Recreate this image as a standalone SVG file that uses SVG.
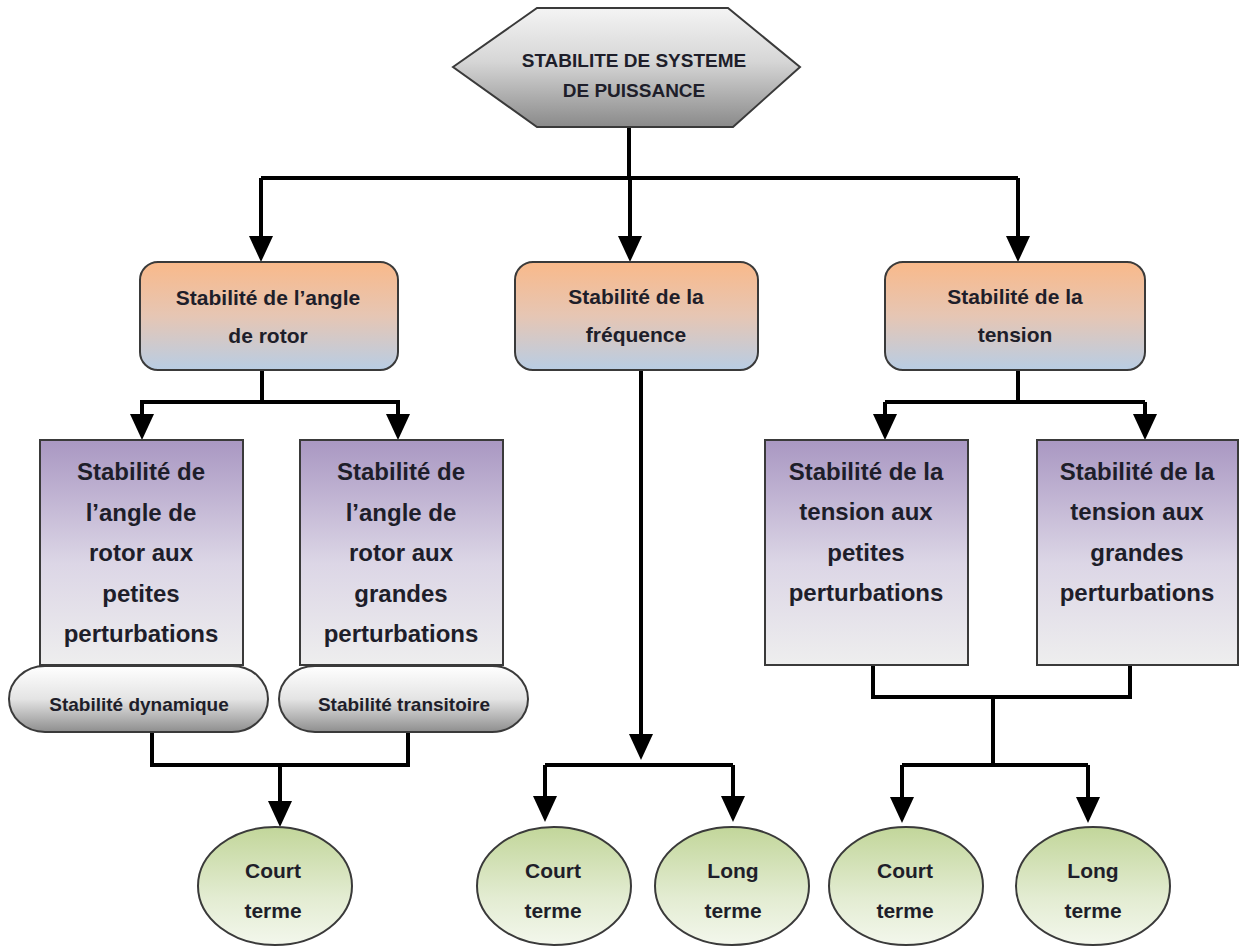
<svg xmlns="http://www.w3.org/2000/svg" width="1242" height="947" viewBox="0 0 1242 947">
  <defs>
    <linearGradient id="gHex" x1="0" y1="0" x2="0" y2="1">
      <stop offset="0" stop-color="#f4f4f4"/>
      <stop offset="0.45" stop-color="#d6d6d6"/>
      <stop offset="1" stop-color="#8a8a8a"/>
    </linearGradient>
    <linearGradient id="gTop" x1="0" y1="0" x2="0" y2="1">
      <stop offset="0" stop-color="#f9b98a"/>
      <stop offset="0.5" stop-color="#e6c6b4"/>
      <stop offset="1" stop-color="#b8cde4"/>
    </linearGradient>
    <linearGradient id="gMid" x1="0" y1="0" x2="0" y2="1">
      <stop offset="0" stop-color="#a997c2"/>
      <stop offset="0.55" stop-color="#dcd6e6"/>
      <stop offset="1" stop-color="#eeeeee"/>
    </linearGradient>
    <linearGradient id="gPill" x1="0" y1="0" x2="0" y2="1">
      <stop offset="0" stop-color="#ffffff"/>
      <stop offset="0.5" stop-color="#e4e4e4"/>
      <stop offset="1" stop-color="#8e8e8e"/>
    </linearGradient>
    <linearGradient id="gLeaf" x1="0" y1="0" x2="0" y2="1">
      <stop offset="0" stop-color="#c2d69a"/>
      <stop offset="0.6" stop-color="#e3ecd2"/>
      <stop offset="1" stop-color="#f3f7ec"/>
    </linearGradient>
    <marker id="arrow" viewBox="0 0 26 24" refX="15" refY="12" markerWidth="26" markerHeight="24" markerUnits="userSpaceOnUse" orient="auto">
      <path d="M0,0 L26,12 L0,24 Z" fill="#000"/>
    </marker>
  </defs>
  <style>
    .edge { fill: none; stroke: #000; stroke-width: 4; stroke-linejoin: miter; }
    .arr { marker-end: url(#arrow); }
    .box { stroke: #3a3a3a; stroke-width: 2; }
    .txt { font-family: "Liberation Sans", Arial, sans-serif; font-weight: bold; text-anchor: middle; fill: #1e1e2a; }
    .t1 { font-size: 21px; }
    .t2 { font-size: 24px; }
    .tp { font-size: 19px; }
    .tl { font-size: 21px; }
    .th { font-size: 19px; }
  </style>

  <rect width="1242" height="947" fill="#ffffff"/>

  <!-- connectors -->
  <g id="connectors">
    <!-- root to the three families -->
    <path class="edge" d="M629,127 V178"/>
    <path class="edge" d="M261,178 H1018"/>
    <path class="edge arr" d="M261,178 V251"/>
    <path class="edge arr" d="M630,178 V251"/>
    <path class="edge arr" d="M1018,178 V251"/>

    <!-- rotor angle branch -->
    <path class="edge" d="M262,370 V402 M140,402 H400"/>
    <path class="edge arr" d="M142,402 V429"/>
    <path class="edge arr" d="M398,402 V429"/>
    <path class="edge" d="M152,732 V765 H408 V732"/>
    <path class="edge arr" d="M280,765 V816"/>

    <!-- frequency branch -->
    <path class="edge arr" d="M641,370 V749"/>
    <path class="edge" d="M545,765 H733"/>
    <path class="edge arr" d="M545,765 V811"/>
    <path class="edge arr" d="M733,765 V811"/>

    <!-- voltage branch -->
    <path class="edge" d="M1018,370 V402 M885,402 H1145"/>
    <path class="edge arr" d="M885,402 V429"/>
    <path class="edge arr" d="M1145,402 V429"/>
    <path class="edge" d="M873,665 V697 H1130 V665 M993,697 V765 M902,765 H1088"/>
    <path class="edge arr" d="M902,765 V812"/>
    <path class="edge arr" d="M1088,765 V812"/>
  </g>

  <!-- root -->
  <g id="root">
    <polygon class="box" points="453,67 537,8 728,8 800,67 733,127 537,127" fill="url(#gHex)"/>
    <text class="txt th" x="634" y="67">STABILITE DE SYSTEME</text>
    <text class="txt th" x="634" y="97">DE PUISSANCE</text>
  </g>

  <!-- first level -->
  <g id="rotor-angle">
    <rect class="box" x="140" y="262" width="258" height="108" rx="18" fill="url(#gTop)"/>
    <text class="txt t1" x="268" y="305">Stabilité de l’angle</text>
    <text class="txt t1" x="268" y="343">de rotor</text>
  </g>
  <g id="frequency">
    <rect class="box" x="515" y="262" width="243" height="108" rx="18" fill="url(#gTop)"/>
    <text class="txt t1" x="636" y="304">Stabilité de la</text>
    <text class="txt t1" x="636" y="342">fréquence</text>
  </g>
  <g id="voltage">
    <rect class="box" x="885" y="262" width="260" height="108" rx="18" fill="url(#gTop)"/>
    <text class="txt t1" x="1015" y="304">Stabilité de la</text>
    <text class="txt t1" x="1015" y="342">tension</text>
  </g>

  <!-- second level -->
  <g id="rotor-small">
    <rect class="box" x="40" y="440" width="203" height="225" fill="url(#gMid)"/>
    <text class="txt t2" x="141" y="480">Stabilité de</text>
    <text class="txt t2" x="141" y="521">l’angle de</text>
    <text class="txt t2" x="141" y="561">rotor aux</text>
    <text class="txt t2" x="141" y="602">petites</text>
    <text class="txt t2" x="141" y="642">perturbations</text>
  </g>
  <g id="rotor-large">
    <rect class="box" x="300" y="440" width="203" height="225" fill="url(#gMid)"/>
    <text class="txt t2" x="401" y="480">Stabilité de</text>
    <text class="txt t2" x="401" y="521">l’angle de</text>
    <text class="txt t2" x="401" y="561">rotor aux</text>
    <text class="txt t2" x="401" y="602">grandes</text>
    <text class="txt t2" x="401" y="642">perturbations</text>
  </g>
  <g id="voltage-small">
    <rect class="box" x="765" y="440" width="203" height="225" fill="url(#gMid)"/>
    <text class="txt t2" x="866" y="480">Stabilité de la</text>
    <text class="txt t2" x="866" y="520">tension aux</text>
    <text class="txt t2" x="866" y="561">petites</text>
    <text class="txt t2" x="866" y="601">perturbations</text>
  </g>
  <g id="voltage-large">
    <rect class="box" x="1037" y="440" width="201" height="225" fill="url(#gMid)"/>
    <text class="txt t2" x="1137" y="480">Stabilité de la</text>
    <text class="txt t2" x="1137" y="520">tension aux</text>
    <text class="txt t2" x="1137" y="561">grandes</text>
    <text class="txt t2" x="1137" y="601">perturbations</text>
  </g>

  <!-- terminators -->
  <g id="dynamic">
    <rect class="box" x="9" y="666" width="259" height="66" rx="36" ry="33" fill="url(#gPill)"/>
    <text class="txt tp" x="139" y="711">Stabilité dynamique</text>
  </g>
  <g id="transient">
    <rect class="box" x="279" y="666" width="249" height="66" rx="36" ry="33" fill="url(#gPill)"/>
    <text class="txt tp" x="404" y="711">Stabilité transitoire</text>
  </g>

  <!-- time frames -->
  <g id="rotor-short">
    <ellipse class="box" cx="275" cy="886" rx="77" ry="59" fill="url(#gLeaf)"/>
    <text class="txt tl" x="273" y="878">Court</text>
    <text class="txt tl" x="273" y="918">terme</text>
  </g>
  <g id="frequency-short">
    <ellipse class="box" cx="554" cy="886" rx="77" ry="59" fill="url(#gLeaf)"/>
    <text class="txt tl" x="553" y="878">Court</text>
    <text class="txt tl" x="553" y="918">terme</text>
  </g>
  <g id="frequency-long">
    <ellipse class="box" cx="732" cy="886" rx="77" ry="59" fill="url(#gLeaf)"/>
    <text class="txt tl" x="733" y="878">Long</text>
    <text class="txt tl" x="733" y="918">terme</text>
  </g>
  <g id="voltage-short">
    <ellipse class="box" cx="906" cy="886" rx="77" ry="59" fill="url(#gLeaf)"/>
    <text class="txt tl" x="905" y="878">Court</text>
    <text class="txt tl" x="905" y="918">terme</text>
  </g>
  <g id="voltage-long">
    <ellipse class="box" cx="1093" cy="886" rx="77" ry="59" fill="url(#gLeaf)"/>
    <text class="txt tl" x="1093" y="878">Long</text>
    <text class="txt tl" x="1093" y="918">terme</text>
  </g>
</svg>
